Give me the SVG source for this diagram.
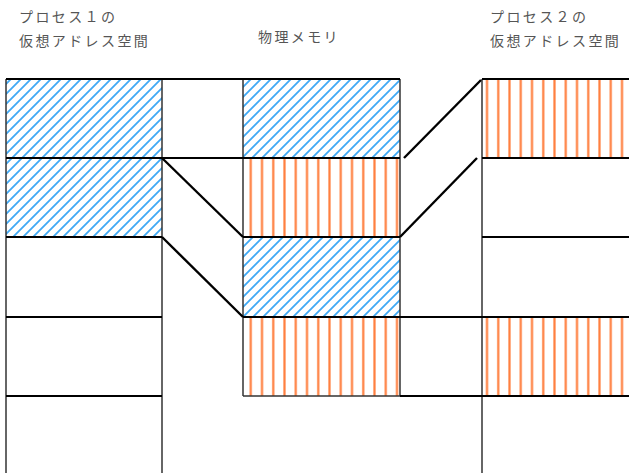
<svg xmlns="http://www.w3.org/2000/svg" width="629" height="473" viewBox="0 0 629 473">
<defs>
<pattern id="blue" patternUnits="userSpaceOnUse" width="10" height="10">
<path d="M-1,11 L11,-1 M-6,6 L6,-6 M4,16 L16,4" stroke="#3fa9f5" stroke-width="1.8"/>
</pattern>
<pattern id="orange" patternUnits="userSpaceOnUse" width="11.25" height="20">
<line x1="3.25" y1="0" x2="3.25" y2="20" stroke="#ff7f3f" stroke-width="2.2"/>
</pattern>
</defs>
<style>
.lbl{font-family:"Noto Sans CJK JP","Noto Sans CJK SC",sans-serif;font-size:14px;fill:#555;letter-spacing:2.4px}
.v{stroke:#333;stroke-width:1.5;fill:none}
.h{stroke:#000;stroke-width:2.2;fill:none}
.c{stroke:#000;stroke-width:2.4;fill:none}
</style>
<rect width="629" height="473" fill="#fff"/>
<g id="labels">
<text class="lbl" x="19" y="22">プロセス１の</text>
<text class="lbl" x="19" y="46">仮想アドレス空間</text>
<text class="lbl" x="258" y="42">物理メモリ</text>
<text class="lbl" x="490" y="22">プロセス２の</text>
<text class="lbl" x="490" y="46">仮想アドレス空間</text>
</g>
<g id="process1">
<rect x="6" y="79" width="156" height="79" fill="url(#blue)"/>
<rect x="6" y="158" width="156" height="79" fill="url(#blue)"/>
<line class="v" x1="6" y1="79" x2="6" y2="473"/>
<line class="v" x1="162" y1="79" x2="162" y2="473"/>
<line class="h" x1="6" y1="79" x2="162" y2="79"/>
<line class="h" x1="6" y1="237" x2="162" y2="237"/>
<line class="h" x1="6" y1="317" x2="162" y2="317"/>
<line class="h" x1="6" y1="396" x2="162" y2="396"/>
</g>
<g id="memory">
<rect x="243" y="79" width="157" height="79" fill="url(#blue)"/>
<rect x="243" y="158" width="157" height="79" fill="url(#orange)"/>
<rect x="243" y="237" width="157" height="80" fill="url(#blue)"/>
<rect x="243" y="317" width="157" height="79" fill="url(#orange)"/>
<line class="v" x1="243" y1="79" x2="243" y2="396"/>
<line class="v" x1="400" y1="79" x2="400" y2="396"/>
<line class="h" x1="243" y1="79" x2="400" y2="79"/>
<line class="h" x1="243" y1="237" x2="400" y2="237"/>
<line class="v" x1="243" y1="396" x2="400" y2="396"/>
</g>
<g id="process2">
<rect x="482" y="79" width="147" height="79" fill="url(#orange)"/>
<rect x="482" y="317" width="147" height="79" fill="url(#orange)"/>
<line class="v" x1="482" y1="79" x2="482" y2="473"/>
<line class="h" x1="482" y1="79" x2="629" y2="79"/>
<line class="h" x1="482" y1="158" x2="629" y2="158"/>
<line class="h" x1="482" y1="237" x2="629" y2="237"/>
</g>
<g id="connectors">
<line class="h" x1="162" y1="79" x2="243" y2="79"/>
<line class="h" x1="6" y1="158" x2="400" y2="158"/>
<line class="c" x1="162" y1="158" x2="243" y2="237"/>
<line class="c" x1="162" y1="237" x2="243" y2="317"/>
<line class="h" x1="243" y1="317" x2="629" y2="317"/>
<line class="h" x1="400" y1="396" x2="629" y2="396"/>
<line class="c" x1="404" y1="158" x2="481" y2="80"/>
<line class="c" x1="400" y1="237" x2="477" y2="158"/>
</g>
</svg>
